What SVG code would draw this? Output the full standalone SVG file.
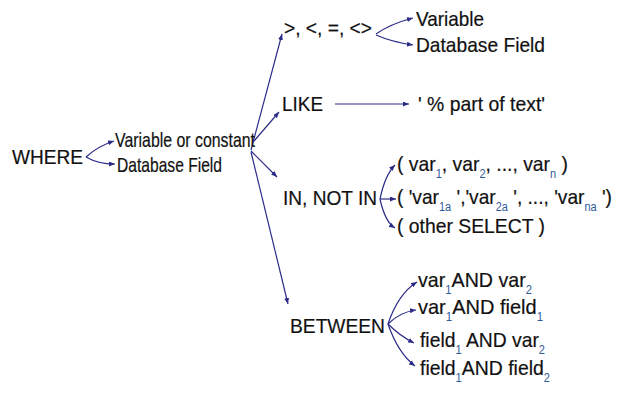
<svg xmlns="http://www.w3.org/2000/svg" width="622" height="399" viewBox="0 0 622 399">
<style>
text{font-family:"Liberation Sans",Arial,sans-serif;fill:#111;font-size:21px;stroke:#111;stroke-width:0.2}
.sub{font-size:12px;fill:#2f5a9a;stroke:none}
.c{fill:none;stroke:#2c2c88;stroke-width:1.2;marker-end:url(#ah)}
</style>
<defs>
<marker id="ah" markerUnits="userSpaceOnUse" markerWidth="6" markerHeight="5" refX="6" refY="2.5" orient="auto">
<path d="M0,0 L6,2.5 L0,5 z" fill="#2c2c88"/>
</marker>
</defs>
<rect width="622" height="399" fill="#fff"/>
<g id="connectors">
<path class="c" d="M86,157 Q98,146 114,141"/>
<path class="c" d="M86,157 Q98,164 115,164"/>
<path class="c" d="M251,150 L282,34"/>
<path class="c" d="M254,141 L279,112"/>
<path class="c" d="M251,151 L277,177"/>
<path class="c" d="M251,152 L288,304"/>
<path class="c" d="M376,34 Q390,24 413,18"/>
<path class="c" d="M376,35 Q392,42 413,45"/>
<path class="c" d="M335,104 L409,104"/>
<path class="c" d="M380,199 Q385,175 395,165"/>
<path class="c" d="M380,199 L396,199"/>
<path class="c" d="M380,199 Q385,222 395,228"/>
<path class="c" d="M388,324 Q398,294 417,282"/>
<path class="c" d="M388,324 Q400,312 416,310"/>
<path class="c" d="M388,324 Q400,336 414,343"/>
<path class="c" d="M388,324 Q398,353 415,366"/>
</g>
<g id="where"><text x="12" y="164" textLength="71" lengthAdjust="spacingAndGlyphs">WHERE</text></g>
<g id="varconst"><text x="115" y="147" textLength="140" lengthAdjust="spacingAndGlyphs">Variable or constant</text></g>
<g id="dbfield1"><text x="117" y="172" textLength="105" lengthAdjust="spacingAndGlyphs">Database Field</text></g>
<g id="ops"><text x="284" y="35" textLength="88" lengthAdjust="spacingAndGlyphs">&gt;, &lt;, =, &lt;&gt;</text></g>
<g id="variable"><text x="416" y="26" textLength="68" lengthAdjust="spacingAndGlyphs">Variable</text></g>
<g id="dbfield2"><text x="416" y="52" textLength="129" lengthAdjust="spacingAndGlyphs">Database Field</text></g>
<g id="like"><text x="282" y="111" textLength="41" lengthAdjust="spacingAndGlyphs">LIKE</text></g>
<g id="pattern"><text x="418" y="111" textLength="127" lengthAdjust="spacingAndGlyphs">' % part of text'</text></g>
<g id="in"><text x="283" y="205" textLength="94" lengthAdjust="spacingAndGlyphs">IN, NOT IN</text></g>
<g id="list1"><text x="397" y="171" textLength="171" lengthAdjust="spacingAndGlyphs">( var<tspan class="sub" dy="7">1</tspan><tspan dy="-7">, var</tspan><tspan class="sub" dy="7">2</tspan><tspan dy="-7">, ..., var</tspan><tspan class="sub" dy="7">n</tspan><tspan dy="-7"> )</tspan></text></g>
<g id="list2"><text x="397" y="204" textLength="215" lengthAdjust="spacingAndGlyphs">( 'var<tspan class="sub" dy="7">1a</tspan><tspan dy="-7"> ','var</tspan><tspan class="sub" dy="7">2a</tspan><tspan dy="-7"> ', ..., 'var</tspan><tspan class="sub" dy="7">na</tspan><tspan dy="-7"> ')</tspan></text></g>
<g id="subselect"><text x="397" y="233" textLength="148" lengthAdjust="spacingAndGlyphs">( other SELECT )</text></g>
<g id="between"><text x="290" y="333" textLength="95" lengthAdjust="spacingAndGlyphs">BETWEEN</text></g>
<g id="b1"><text x="418" y="287" textLength="114" lengthAdjust="spacingAndGlyphs">var<tspan class="sub" dy="7">1</tspan><tspan dy="-7">AND var</tspan><tspan class="sub" dy="7">2</tspan></text></g>
<g id="b2"><text x="418" y="314" textLength="125" lengthAdjust="spacingAndGlyphs">var<tspan class="sub" dy="7">1</tspan><tspan dy="-7">AND field</tspan><tspan class="sub" dy="7">1</tspan></text></g>
<g id="b3"><text x="420" y="347" textLength="125" lengthAdjust="spacingAndGlyphs">field<tspan class="sub" dy="7">1</tspan><tspan dy="-7"> AND var</tspan><tspan class="sub" dy="7">2</tspan></text></g>
<g id="b4"><text x="420" y="375" textLength="130" lengthAdjust="spacingAndGlyphs">field<tspan class="sub" dy="7">1</tspan><tspan dy="-7">AND field</tspan><tspan class="sub" dy="7">2</tspan></text></g>
</svg>
